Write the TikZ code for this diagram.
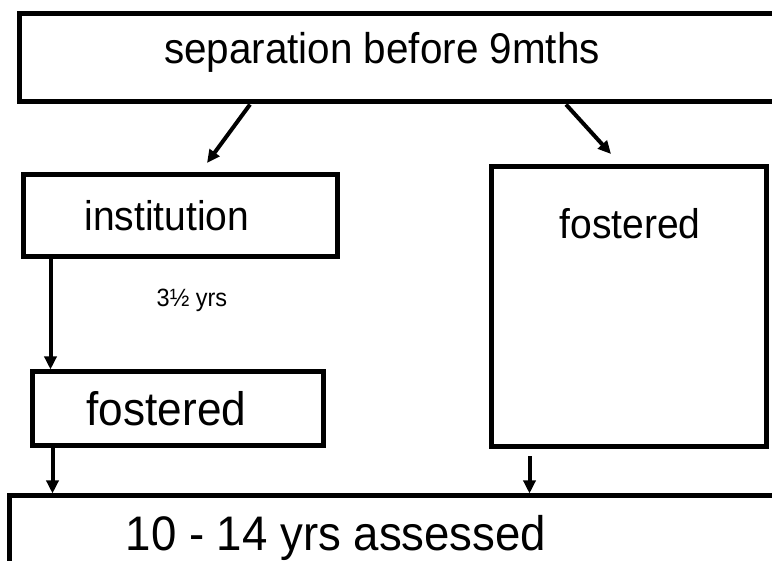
\documentclass[tikz,border=0pt]{standalone}
\usepackage{fontspec}
\setmainfont[FakeStretch=0.94]{Liberation Sans}
\usetikzlibrary{positioning,arrows.meta}
\tikzset{
  box/.style={rectangle, draw, line width=5pt, inner sep=0pt},
  fwd/.style={-{Triangle[length=13pt,width=12pt]}, line width=4pt},
  big/.style={font=\fontsize{43}{50}\selectfont},
  mid/.style={font=\fontsize{41.5}{50}\selectfont},
  bigger/.style={font=\fontsize{47}{55}\selectfont},
  biggest/.style={font=\fontsize{48.5}{56}\selectfont},
  small/.style={font=\fontsize{25}{30}\selectfont},
}

\begin{document}
\begin{tikzpicture}[x=1pt,y=-1pt]
  \useasboundingbox (0,0) rectangle (772,561);
  \node[box, minimum width=781pt, minimum height=88.5pt] (node1) at (409.5,57.75) {};
  \node[big] (node1t) at (382,52) {separation before 9mths};
  \node[box, mid, minimum width=314pt, minimum height=82.5pt] (node2) at (180,215.75) {\hspace*{-26pt}institution};
  \node[box, minimum width=274.5pt, minimum height=280.5pt] (node3) at (628.75,306.75) {};
  \node[mid] (node3t) at (630,224) {fostered};
  \node[box, bigger, minimum width=291pt, minimum height=74pt] (node4) at (177.5,409) {\hspace*{-22pt}fostered};
  \node[box, minimum width=791pt, minimum height=90pt] (node5) at (404.5,541) {};
  \node[biggest] (node5t) at (336,538) {10 - 14 yrs assessed};
  \node[small] (node6) at (192,300) {3½ yrs};

  % connectors
  \coordinate (c1) at (207,163);
  \coordinate (c2) at (611,154);
  \draw[fwd] ([xshift=-159.5pt]node1.south) -- (c1);
  \draw[fwd] ([xshift=156.5pt]node1.south) -- (c2);
  \draw[fwd] ([xshift=30pt]node2.south west) -- ([xshift=21pt]node4.north west);
  \draw[fwd] ([xshift=23pt]node4.south west) -- ([xshift=46pt]node5.north west);
  \draw[fwd] ([xshift=40.5pt,yshift=-7pt]node3.south west) -- ([xshift=523pt]node5.north west);
\end{tikzpicture}
\end{document}
